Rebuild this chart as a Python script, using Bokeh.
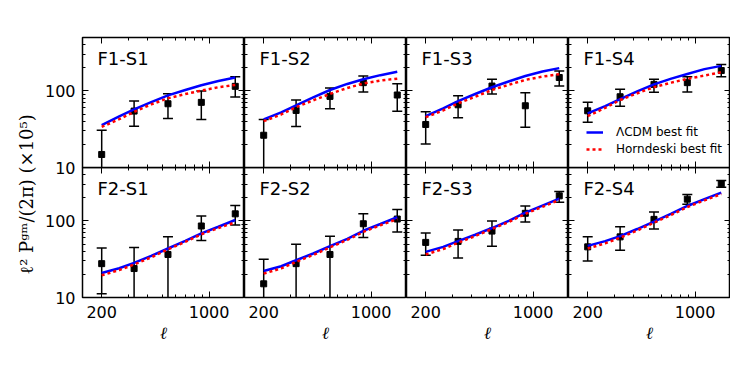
from bokeh.plotting import figure
from bokeh.layouts import row, column
from bokeh.models import (Range1d, LogAxis, FixedTicker, Label, Legend, LegendItem,
                          PrintfTickFormatter)
from bokeh.embed import file_html
from bokeh.resources import INLINE

# ---------------- data ----------------
ell = [200, 325, 540, 890, 1480]                          # measured band powers
ell_fit = [200, 260, 325, 420, 540, 700, 890, 1150, 1480]  # best-fit curves

names = ["F1-S1", "F1-S2", "F1-S3", "F1-S4", "F2-S1", "F2-S2", "F2-S3", "F2-S4"]

# measured points (value, upper end, lower end of error bar); 1.0 = bar runs past the axis
F1S1_val = [14.8, 54.6, 68.1, 71.0, 115]
F1S1_hi = [30.7, 73.8, 92.0, 100, 153]
F1S1_lo = [1.0, 34.6, 43.7, 42.5, 83.4]
F1S1_lcdm = [35.7, 46.5, 57.5, 71.5, 87.5, 103, 119, 135, 150]
F1S1_horn = [33.9, 42.8, 53.4, 66.8, 80.2, 91.2, 101, 112, 120]

F1S2_val = [26.4, 55.7, 85, 128.5, 88.6]
F1S2_hi = [42.5, 76.2, 109, 157, 124]
F1S2_lo = [1.0, 34.3, 58.5, 97, 54.2]
F1S2_lcdm = [42.5, 52.5, 64.9, 82.6, 103, 123.6, 142.6, 161, 178]
F1S2_horn = [40.3, 49.3, 61.4, 75.5, 91.4, 109.5, 125, 137, 145]

F1S3_val = [36.5, 66, 116, 64.1, 150]
F1S3_hi = [53.4, 86.7, 142.6, 95, 183]
F1S3_lo = [20.3, 44.6, 91.4, 33.6, 116]
F1S3_lcdm = [46.9, 59.2, 73.8, 91.4, 112, 134, 157, 179.5, 199]
F1S3_horn = [45.3, 55.7, 68.9, 84.1, 103, 121, 139.6, 154, 166]

F1S4_val = [55.1, 84.1, 122, 128.5, 185]
F1S4_hi = [71, 105, 142.6, 154, 222]
F1S4_lo = [39.1, 63, 96, 97, 153]
F1S4_lcdm = [50.9, 63.5, 78.5, 99, 122, 145, 167, 193, 213]
F1S4_horn = [46.9, 60.2, 76.2, 93.3, 112, 128.5, 144, 159, 176]

F2S1_val = [27.7, 23.9, 36.5, 86, 124]
F2S1_hi = [44.2, 45, 62, 116, 159]
F2S1_lo = [11.2, 1.0, 1.0, 55.7, 88.6]
F2S1_lcdm = [20.9, 24.1, 28.3, 34.9, 43.7, 55.1, 68.9, 84.1, 103]
F2S1_horn = [19.5, 22.8, 27.0, 33.5, 42.5, 53.5, 67, 81, 96]

F2S2_val = [15.1, 27.7, 36.5, 92, 106]
F2S2_hi = [31.6, 49.8, 63, 124, 141]
F2S2_lo = [1.0, 1.0, 1.0, 61, 71.7]
F2S2_lcdm = [22.2, 25.6, 30.7, 37.6, 46.9, 58.5, 74.5, 91.4, 112]
F2S2_horn = [20.5, 24.0, 29.2, 36.0, 45.3, 56.5, 72, 88, 106]

F2S3_val = [52.5, 54.1, 73.8, 126, 213]
F2S3_hi = [69.5, 76.2, 100, 157, 243]
F2S3_lo = [35.7, 32.9, 46.9, 97, 176]
F2S3_lcdm = [39.5, 45.9, 54.6, 66.1, 80.9, 101, 128.5, 159, 196]
F2S3_horn = [36.5, 43.0, 52.0, 63.5, 78.5, 97.5, 124, 153, 188]

F2S4_val = [45.9, 62, 105, 193, 307]
F2S4_hi = [62, 84.1, 131, 222, 339]
F2S4_lo = [30, 41.5, 78.5, 166, 277]
F2S4_lcdm = [47.3, 54.6, 63.5, 78.5, 98, 124.7, 157, 193, 235]
F2S4_horn = [43.7, 51.0, 60.5, 75.0, 95, 120, 152, 186, 225]

x_major = [200, 1000]
x_minor = [300, 400, 500, 600, 700, 800, 900]
y_major = [10, 100]
y_minor = [20, 30, 40, 50, 60, 70, 80, 90, 200, 300, 400]
x_lim = (150, 1700)
y_lim = (10, 500)

legend_labels = ["\u039bCDM best fit", "Horndeski best fit"]
y_label = "\u2113\u00b2 P\u1d4d\u1d50/(2\u03c0)  (\u00d710\u2075)"
x_label = "\u2113"

panels = [
    (F1S1_val, F1S1_hi, F1S1_lo, F1S1_lcdm, F1S1_horn),
    (F1S2_val, F1S2_hi, F1S2_lo, F1S2_lcdm, F1S2_horn),
    (F1S3_val, F1S3_hi, F1S3_lo, F1S3_lcdm, F1S3_horn),
    (F1S4_val, F1S4_hi, F1S4_lo, F1S4_lcdm, F1S4_horn),
    (F2S1_val, F2S1_hi, F2S1_lo, F2S1_lcdm, F2S1_horn),
    (F2S2_val, F2S2_hi, F2S2_lo, F2S2_lcdm, F2S2_horn),
    (F2S3_val, F2S3_hi, F2S3_lo, F2S3_lcdm, F2S3_horn),
    (F2S4_val, F2S4_hi, F2S4_lo, F2S4_lcdm, F2S4_horn),
]

FONT = "DejaVu Sans"
FW, FH = 162, 130
LAB_W = 41
LEFT_B, TOP_B, BOT_B, GAP = 40, 37, 45, 10


def style_axis(ax, labels, ticker):
    ax.ticker = ticker
    ax.axis_line_color = None
    ax.major_tick_in = 6
    ax.major_tick_out = 0
    ax.minor_tick_in = 3
    ax.minor_tick_out = 0
    ax.major_tick_line_color = "black"
    ax.minor_tick_line_color = "black"
    ax.major_tick_line_width = 1
    ax.minor_tick_line_width = 1
    ax.formatter = PrintfTickFormatter(format="%d")
    if labels:
        ax.major_label_text_font = FONT
        ax.major_label_text_font_size = "16px"
        ax.major_label_text_color = "black"
    else:
        ax.major_label_text_alpha = 0


def make_panel(i):
    r, c = divmod(i, 4)
    val, hi, lo, lcdm, horn = panels[i]
    p = figure(frame_width=FW, frame_height=FH, x_axis_type="log", y_axis_type="log",
               x_range=Range1d(*x_lim), y_range=Range1d(*y_lim),
               x_axis_location=None, y_axis_location=None,
               toolbar_location=None, output_backend="svg",
               min_border_left=LEFT_B if c == 0 else 0, min_border_right=0,
               min_border_top=TOP_B if r == 0 else 0,
               min_border_bottom=BOT_B if r == 1 else GAP)
    p.grid.visible = False
    p.outline_line_color = "black"
    p.outline_line_width = 1.5
    if r == 1:
        p.background_fill_alpha = 0
        p.border_fill_alpha = 0
    else:
        p.background_fill_color = "white"
        p.border_fill_color = "white"

    xt = FixedTicker(ticks=x_major, minor_ticks=x_minor)
    yt = FixedTicker(ticks=y_major, minor_ticks=y_minor)

    # bottom
    if r == 1:
        b = LogAxis()
        style_axis(b, True, xt)
        b.major_label_standoff = 8
        b.axis_label = x_label
        b.axis_label_text_font = "DejaVu Serif"
        b.axis_label_text_font_style = "italic"
        b.axis_label_text_font_size = "17px"
        b.axis_label_text_color = "black"
        b.axis_label_standoff = 2
    else:
        b = LogAxis(fixed_location=y_lim[0])
        style_axis(b, False, xt)
    p.add_layout(b, "below")
    # top
    t = LogAxis(fixed_location=y_lim[1])
    style_axis(t, False, FixedTicker(ticks=x_major, minor_ticks=x_minor))
    p.add_layout(t, "above")
    # left
    if c == 0:
        lft = LogAxis()
        style_axis(lft, True, yt)
        lft.major_label_standoff = 7
    else:
        lft = LogAxis(fixed_location=x_lim[0])
        style_axis(lft, False, yt)
    p.add_layout(lft, "left")
    # right
    rt = LogAxis(fixed_location=x_lim[1])
    style_axis(rt, False, FixedTicker(ticks=y_major, minor_ticks=y_minor))
    p.add_layout(rt, "right")

    # error bars and points
    p.segment(x0=ell, y0=lo, x1=ell, y1=hi, line_color="black", line_width=1.5)
    p.scatter(ell, hi, marker="dash", size=10, line_color="black", line_width=1.5)
    p.scatter(ell, lo, marker="dash", size=10, line_color="black", line_width=1.5)
    p.scatter(ell, val, marker="square", size=6, fill_color="black", line_color="black")

    rb = p.line(ell_fit, lcdm, line_color="#0000ff", line_width=2.5)
    rr = p.line(ell_fit, horn, line_color="#ff0000", line_width=2.5, line_dash="3 3")

    p.add_layout(Label(x=15, y=FH - 10, x_units="screen", y_units="screen",
                       text=names[i], text_font=FONT, text_font_size="18px",
                       text_color="black", text_baseline="top", text_align="left"))

    if i == 3:
        leg = Legend(items=[LegendItem(label=legend_labels[0], renderers=[rb]),
                            LegendItem(label=legend_labels[1], renderers=[rr])],
                     location=(18, 11), padding=0, margin=0, spacing=3,
                     glyph_width=17, glyph_height=14, label_height=14,
                     label_standoff=13, label_text_font=FONT,
                     label_text_font_size="12px", label_text_color="black",
                     border_line_color=None, background_fill_alpha=0)
        p.add_layout(leg)
    return p


figs = [make_panel(i) for i in range(8)]

total_h = TOP_B + FH + GAP + FH + BOT_B - GAP
lab = figure(width=LAB_W, height=total_h, x_range=Range1d(0, 1), y_range=Range1d(0, 1),
             x_axis_location=None, y_axis_location=None, toolbar_location=None,
             output_backend="svg", min_border=0, outline_line_color=None)
lab.grid.visible = False
lab.add_layout(Label(x=26, y=total_h - 191, x_units="screen", y_units="screen",
                     text=y_label, angle=90, angle_units="deg",
                     text_font="DejaVu Serif", text_font_size="18px",
                     text_color="black", text_align="center", text_baseline="middle"))

top_row = row(*figs[:4])
bottom_row = row(*figs[4:], margin=(-GAP, 0, 0, 0))
layout = row(lab, column(top_row, bottom_row))

open("out.html", "w").write(file_html(layout, INLINE))
